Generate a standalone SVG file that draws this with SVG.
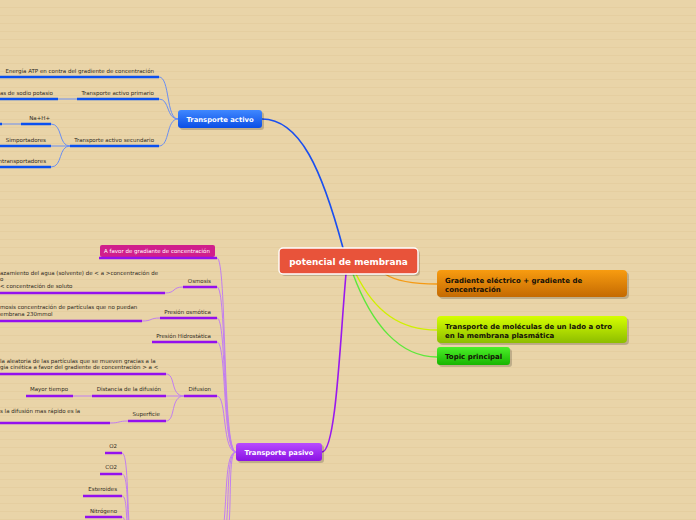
<svg xmlns="http://www.w3.org/2000/svg" width="696" height="520" viewBox="0 0 696 520">
<defs>
<pattern id="paper" width="696" height="8" patternUnits="userSpaceOnUse">
<rect width="696" height="8" fill="#e9d4a8"/>
<rect y="7" width="696" height="1" fill="#e5cea0"/>
</pattern>
<linearGradient id="gBlue" x1="0" y1="0" x2="0" y2="1"><stop offset="0" stop-color="#4088ff"/><stop offset="1" stop-color="#0a4ee6"/></linearGradient>
<linearGradient id="gPurple" x1="0" y1="0" x2="0" y2="1"><stop offset="0" stop-color="#b84cff"/><stop offset="1" stop-color="#8a12e4"/></linearGradient>
<linearGradient id="gOrange" x1="0" y1="0" x2="0" y2="1"><stop offset="0" stop-color="#f89c10"/><stop offset="1" stop-color="#c46a02"/></linearGradient>
<linearGradient id="gYellow" x1="0" y1="0" x2="0" y2="1"><stop offset="0" stop-color="#d6ff00"/><stop offset="1" stop-color="#8dbd00"/></linearGradient>
<linearGradient id="gGreen" x1="0" y1="0" x2="0" y2="1"><stop offset="0" stop-color="#4cf02a"/><stop offset="1" stop-color="#18b500"/></linearGradient>
</defs>
<style>
.t{font-family:"DejaVu Sans",Verdana,sans-serif;font-size:5.5px;fill:#2e2a22}
.e{text-anchor:end}
.ub{stroke:#0a50f0;stroke-width:2.5;fill:none}
.up{stroke:#9410ee;stroke-width:2.5;fill:none}
.cb{stroke:#6a8ef2;stroke-width:1;fill:none}
.cp{stroke:#c27ef0;stroke-width:1;fill:none}
.nt{font-family:"DejaVu Sans",Verdana,sans-serif;font-weight:bold;fill:#fff}
.rt{font-family:"DejaVu Sans",Verdana,sans-serif;font-weight:bold;font-size:7px;fill:#141008}
.sh{fill:#000;opacity:0.18}
</style>
<rect width="696" height="520" fill="url(#paper)"/>

<g id="connectors">
<path d="M262,119 C300,119 322,170 343,248" stroke="#1a4ff0" stroke-width="1.6" fill="none"/>
<path d="M346,274 C340,340 336,452 322,452" stroke="#9a18ee" stroke-width="1.6" fill="none"/>
<path d="M385,274 Q400,284 437,284" stroke="#f59a14" stroke-width="1.4" fill="none"/>
<path d="M356,274 C375,312 400,330 437,330" stroke="#d0f000" stroke-width="1.4" fill="none"/>
<path d="M353,274 C372,325 400,357 437,357" stroke="#5ee83a" stroke-width="1.4" fill="none"/>
<path class="cb" d="M178,119 C166,119 170,77 159,77"/>
<path class="cb" d="M178,119 C166,119 170,99 159,99"/>
<path class="cb" d="M178,119 C166,119 170,146 159,146"/>
<path class="cb" d="M58,99 L77,99"/>
<path class="cb" d="M70,146 C58,146 63,124 51,124"/>
<path class="cb" d="M70,146 L51,146"/>
<path class="cb" d="M70,146 C58,146 63,167 51,167"/>
<path class="cb" d="M2,124 L21,124"/>
<path class="cp" d="M236,452 C222,452 227,258 217,258"/>
<path class="cp" d="M236,452 C222,452 227,287 217,287"/>
<path class="cp" d="M236,452 C222,452 227,318 217,318"/>
<path class="cp" d="M236,452 C222,452 227,342 217,342"/>
<path class="cp" d="M236,452 C222,452 227,396 217,396"/>
<path class="cp" d="M236,452 C224,452 228,500 222,540"/>
<path class="cp" d="M236,452 C226,452 230,500 225,540"/>
<path class="cp" d="M236,452 C228,452 232,500 228,540"/>
<path class="cp" d="M165,293 C176,293 172,287 183,287"/>
<path class="cp" d="M142,321 C153,321 149,318 160,318"/>
<path class="cp" d="M184,396 C170,396 176,374 166,374"/>
<path class="cp" d="M184,396 L166,396"/>
<path class="cp" d="M184,396 C170,396 176,421 166,421"/>
<path class="cp" d="M73,396 L92,396"/>
<path class="cp" d="M110,423 C120,423 118,421 128,421"/>
<path class="cp" d="M122,453 C128,453 127,500 130,540"/>
<path class="cp" d="M122,474 C128,474 127,505 129,540"/>
<path class="cp" d="M122,496 C127,496 126,515 128,540"/>
<path class="cp" d="M122,517 C126,517 125,530 127,540"/>
</g>

<g id="central">
<rect x="281" y="250" width="139" height="26" rx="4" class="sh"/>
<rect x="279" y="248" width="139" height="26" rx="4" fill="#e8533a" stroke="#fff" stroke-width="1.4"/>
<text x="348.5" y="264.5" class="nt" font-size="8.9" text-anchor="middle">potencial de membrana</text>
</g>

<g id="transporte-activo">
<rect x="180" y="112" width="84" height="18" rx="3" class="sh"/>
<rect x="178" y="110" width="84" height="18" rx="3" fill="url(#gBlue)"/>
<text x="220" y="121.5" class="nt" font-size="6.8" text-anchor="middle">Transporte activo</text>
</g>

<g id="transporte-pasivo">
<rect x="238" y="445" width="86" height="18" rx="3" class="sh"/>
<rect x="236" y="443" width="86" height="18" rx="3" fill="url(#gPurple)"/>
<text x="279" y="454.5" class="nt" font-size="6.8" text-anchor="middle">Transporte pasivo</text>
</g>

<g id="gradiente-electrico">
<rect x="439" y="272" width="190" height="27" rx="4" class="sh"/>
<rect x="437" y="270" width="190" height="27" rx="4" fill="url(#gOrange)"/>
<text x="445" y="283" class="rt">Gradiente eléctrico + gradiente de</text>
<text x="445" y="291.5" class="rt">concentración</text>
</g>

<g id="transporte-moleculas">
<rect x="439" y="318" width="190" height="27" rx="4" class="sh"/>
<rect x="437" y="316" width="190" height="27" rx="4" fill="url(#gYellow)"/>
<text x="445" y="329" class="rt">Transporte de moléculas de un lado a otro</text>
<text x="445" y="337.5" class="rt">en la membrana plasmática</text>
</g>

<g id="topic-principal">
<rect x="439" y="349" width="73" height="18" rx="3" class="sh"/>
<rect x="437" y="347" width="73" height="18" rx="3" fill="url(#gGreen)"/>
<text x="445" y="359" class="rt">Topic principal</text>
</g>

<g id="energia-atp"><text x="154" y="73" class="t e">Energía ATP en contra del gradiente de concentración</text><path class="ub" d="M0,77 H159"/></g>
<g id="activo-primario"><text x="154" y="95" class="t e">Transporte activo primario</text><path class="ub" d="M77,99 H159"/></g>
<g id="bombas-sodio"><text x="53" y="95" class="t e">as de sodio potasio</text><path class="ub" d="M0,99 H58"/></g>
<g id="activo-secundario"><text x="154" y="142" class="t e">Transporte activo secundario</text><path class="ub" d="M70,146 H159"/></g>
<g id="na-h"><text x="50" y="120" class="t e">Na+H+</text><path class="ub" d="M21,124 H51"/></g>
<g id="na-h-child"><path class="ub" d="M-10,124 H2"/></g>
<g id="simportadores"><text x="46" y="142" class="t e">Simportadores</text><path class="ub" d="M0,146 H51"/></g>
<g id="contransportadores"><text x="46" y="163" class="t e">ntransportadores</text><path class="ub" d="M0,167 H51"/></g>

<g id="a-favor">
<rect x="100" y="245" width="115" height="12" rx="2" fill="#d01f8c"/>
<text x="104" y="253" class="t" style="fill:#fff">A  favor de gradiante de concentración</text>
<path class="up" d="M99,258 H217"/>
</g>
<g id="osmosis"><text x="211" y="283" class="t e">Osmosis</text><path class="up" d="M183,287 H217"/></g>
<g id="osmosis-def">
<text x="0" y="275" class="t">azamiento del agua (solvente) de &lt; a &gt;concentración de</text>
<text x="0" y="281" class="t">o</text>
<text x="0" y="288" class="t">&lt; concentración de soluto</text>
<path class="up" d="M0,293 H165"/>
</g>
<g id="presion-osmotica"><text x="211" y="314" class="t e">Presión osmótica</text><path class="up" d="M160,318 H217"/></g>
<g id="presion-osmotica-def">
<text x="0" y="309" class="t">mosis concentración de partículas que no puedan</text>
<text x="0" y="316" class="t">embrana 230mmol</text>
<path class="up" d="M0,321 H142"/>
</g>
<g id="presion-hidrostatica"><text x="211" y="338" class="t e">Presión Hidrostática</text><path class="up" d="M152,342 H217"/></g>
<g id="difusion"><text x="211" y="391" class="t e">Difusion</text><path class="up" d="M184,396 H217"/></g>
<g id="difusion-def">
<text x="0" y="363" class="t">la aleatoria de las partículas que se mueven gracias a la</text>
<text x="0" y="369" class="t">gía cinética a favor del gradiente de concentración &gt; a &lt;</text>
<path class="up" d="M0,374 H166"/>
</g>
<g id="distancia"><text x="161" y="391" class="t e">Distancia de la difusión</text><path class="up" d="M92,396 H166"/></g>
<g id="mayor-tiempo"><text x="68" y="391" class="t e">Mayor tiempo</text><path class="up" d="M26,396 H73"/></g>
<g id="superficie"><text x="160" y="416" class="t e">Superficie</text><path class="up" d="M128,421 H166"/></g>
<g id="superficie-def"><text x="0" y="413" class="t">s la difusión mas rápido es la</text><path class="up" d="M0,423 H110"/></g>
<g id="o2"><text x="117" y="448" class="t e">O2</text><path class="up" d="M105,453 H122"/></g>
<g id="co2"><text x="117" y="469" class="t e">CO2</text><path class="up" d="M100,474 H122"/></g>
<g id="esteroides"><text x="117" y="491" class="t e">Esteroides</text><path class="up" d="M83,496 H122"/></g>
<g id="nitrogeno"><text x="117" y="513" class="t e">Nitrógeno</text><path class="up" d="M85,517 H122"/></g>
</svg>
